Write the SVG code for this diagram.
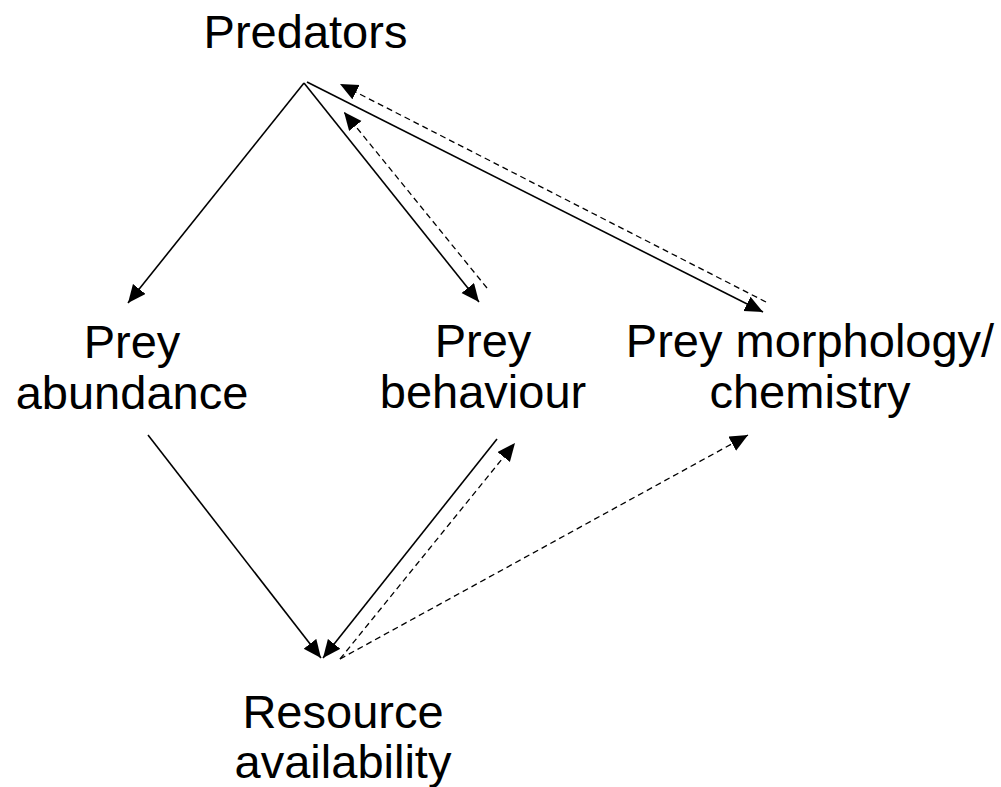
<svg xmlns="http://www.w3.org/2000/svg" width="1001" height="787" viewBox="0 0 1001 787">
<style>
  .lbl { font-family: "Liberation Sans", Arial, sans-serif; font-size: 47px; fill: #000; text-anchor: middle; }
  .solid { stroke: #000; stroke-width: 1.6; fill: none; marker-end: url(#ah); }
  .dash { stroke: #000; stroke-width: 1.3; fill: none; stroke-dasharray: 6 4; marker-end: url(#ah); }
</style>
<defs>
  <marker id="ah" markerUnits="userSpaceOnUse" markerWidth="19" markerHeight="17" refX="18" refY="8" orient="auto">
    <path d="M0,0 L18,8 L0,16 z" fill="#000"/>
  </marker>
</defs>
<rect width="1001" height="787" fill="#fff"/>
<g id="connectors">
  <line class="solid" x1="304" y1="83" x2="128" y2="303"/>
  <line class="solid" x1="304" y1="83" x2="479" y2="302"/>
  <line class="solid" x1="307" y1="82" x2="763" y2="312"/>
  <line class="dash" x1="766" y1="302" x2="340" y2="84"/>
  <line class="dash" x1="487" y1="288" x2="344" y2="112"/>
  <line class="solid" x1="148" y1="435" x2="321" y2="658"/>
  <line class="solid" x1="497" y1="439" x2="323" y2="658"/>
  <line class="dash" x1="340" y1="659" x2="515" y2="443"/>
  <line class="dash" x1="340" y1="659" x2="748" y2="435"/>
</g>
<g id="predators"><text class="lbl" x="305.5" y="48">Predators</text></g>
<g id="prey-abundance"><text class="lbl" x="132" y="358">Prey</text><text class="lbl" x="132" y="409">abundance</text></g>
<g id="prey-behaviour"><text class="lbl" x="483" y="357">Prey</text><text class="lbl" x="483" y="408">behaviour</text></g>
<g id="prey-morphology"><text class="lbl" x="810" y="357">Prey morphology/</text><text class="lbl" x="810" y="408">chemistry</text></g>
<g id="resource-availability"><text class="lbl" x="343" y="728">Resource</text><text class="lbl" x="343" y="778">availability</text></g>
</svg>
